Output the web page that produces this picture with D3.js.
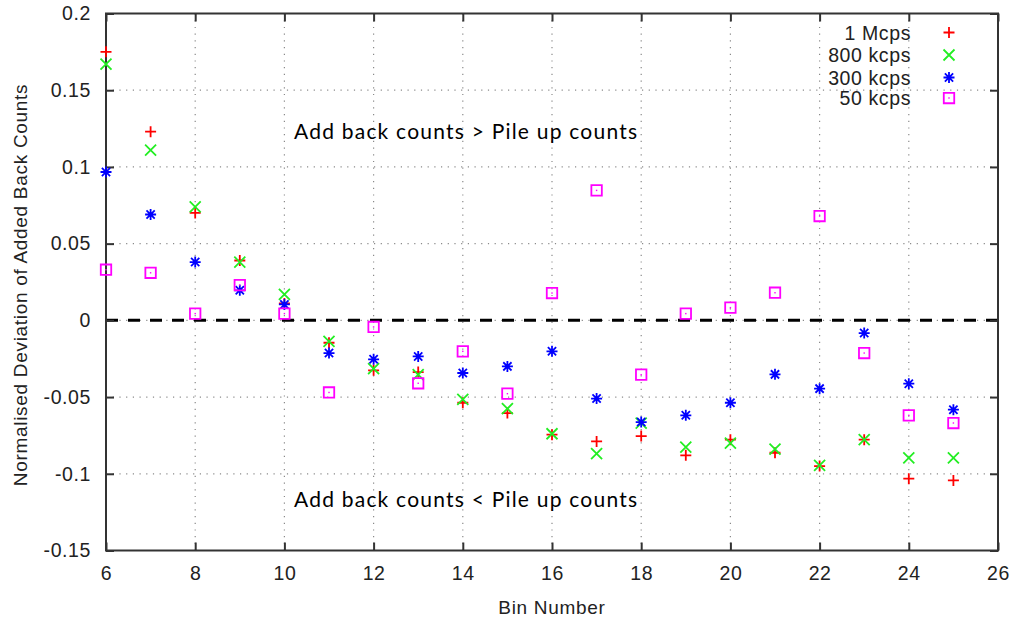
<!DOCTYPE html>
<html>
<head>
<meta charset="utf-8">
<script src="https://cdn.jsdelivr.net/npm/d3@7"></script>
<style>
  html, body { margin: 0; padding: 0; background: #fff; }
  svg { display: block; }
  .tick-label { font-family: "Liberation Sans", Arial, sans-serif; font-size: 19.5px; letter-spacing: 0.6px; fill: #222; }
  .axis-title { font-family: "Liberation Sans", Arial, sans-serif; font-size: 19px; letter-spacing: 0.7px; fill: #222; }
  .note { font-family: Lato, "Open Sans", sans-serif; font-size: 21px; fill: #000; }
</style>
</head>
<body>
<svg id="chart" width="1016" height="622"></svg>
<script>
// Bin numbers along the x axis
const bins = [6, 7, 8, 9, 10, 11, 12, 13, 14, 15, 16, 17, 18, 19, 20, 21, 22, 23, 24, 25];

// Normalised deviation of added-back counts, one array per count rate
const mcps1   = [0.175, 0.123, 0.070, 0.039, 0.011, -0.0146, -0.0326, -0.0337, -0.0537, -0.0604, -0.0745, -0.0789, -0.0754, -0.0880, -0.0778, -0.0863, -0.0950, -0.0778, -0.1032, -0.1043];
const kcps800 = [0.167, 0.111, 0.074, 0.038, 0.017, -0.0137, -0.0315, -0.0354, -0.0515, -0.0576, -0.0739, -0.0869, -0.0670, -0.0826, -0.0800, -0.0840, -0.0945, -0.0778, -0.0896, -0.0896];
const kcps300 = [0.0967, 0.069, 0.038, 0.0196, 0.0104, -0.0213, -0.0254, -0.0235, -0.0343, -0.0300, -0.0202, -0.0510, -0.0663, -0.0619, -0.0537, -0.0352, -0.0445, -0.0083, -0.0413, -0.0582];
const kcps50  = [0.033, 0.031, 0.0044, 0.023, 0.0044, -0.047, -0.0043, -0.041, -0.0202, -0.0478, 0.0178, 0.0847, -0.0354, 0.0044, 0.0083, 0.018, 0.068, -0.0213, -0.0619, -0.0669];

const seriesNames = ["1 Mcps", "800 kcps", "300 kcps", "50 kcps"];
const seriesValues = [mcps1, kcps800, kcps300, kcps50];
const seriesColors = ["#ff0000", "#22ee22", "#0000ff", "#ff00ff"];
const seriesShapes = ["plus", "cross", "star", "square"];

const xTicks = [6, 8, 10, 12, 14, 16, 18, 20, 22, 24, 26];
const yTicks = [-0.15, -0.1, -0.05, 0, 0.05, 0.1, 0.15, 0.2];
const yTickLabels = ["-0.15", "-0.1", "-0.05", "0", "0.05", "0.1", "0.15", "0.2"];

const noteAbove = "Add back counts > Pile up counts";
const noteBelow = "Add back counts < Pile up counts";
const xTitle = "Bin Number";
const yTitle = "Normalised Deviation of Added Back Counts";

const svg = d3.select("#chart");
const plot = { left: 106, right: 998, top: 13.5, bottom: 550.5 };

const x = d3.scaleLinear().domain([6, 26]).range([plot.left, plot.right]);
const y = d3.scaleLinear().domain([-0.15, 0.2]).range([plot.bottom, plot.top]);

// dotted grid
const grid = svg.append("g").attr("stroke", "#8a8a8a").attr("stroke-width", 1.2)
  .attr("stroke-dasharray", "1.2,5.5").attr("fill", "none");
xTicks.slice(1, -1).forEach(t => {
  grid.append("line").attr("x1", x(t)).attr("x2", x(t)).attr("y1", plot.top).attr("y2", plot.bottom);
});
yTicks.slice(1, -1).forEach(t => {
  grid.append("line").attr("x1", plot.left).attr("x2", plot.right).attr("y1", y(t)).attr("y2", y(t));
});

// zero reference line
svg.append("line")
  .attr("x1", plot.left).attr("x2", plot.right)
  .attr("y1", y(0)).attr("y2", y(0))
  .attr("stroke", "#000").attr("stroke-width", 3)
  .attr("stroke-dasharray", "12,10");

// axes with inward ticks on all four sides
const tickLen = 8;
const axisColor = "#333";
const bottomAxis = d3.axisBottom(x).tickValues(xTicks).tickSize(-tickLen).tickPadding(16).tickFormat(d3.format("d"));
const topAxis = d3.axisTop(x).tickValues(xTicks).tickSize(-tickLen).tickFormat("");
const leftAxis = d3.axisLeft(y).tickValues(yTicks).tickSize(-tickLen).tickPadding(15)
  .tickFormat((d, i) => yTickLabels[i]);
const rightAxis = d3.axisRight(y).tickValues(yTicks).tickSize(-tickLen).tickFormat("");

function styleAxis(g) {
  g.select(".domain").remove();
  g.selectAll(".tick line").attr("stroke", axisColor).attr("stroke-width", 2);
  g.selectAll(".tick text").attr("class", "tick-label").attr("font-family", null).attr("font-size", null).attr("fill", null);
}
svg.append("g").attr("transform", `translate(0,${plot.bottom})`).call(bottomAxis).call(styleAxis);
svg.append("g").attr("transform", `translate(0,${plot.top})`).call(topAxis).call(styleAxis);
svg.append("g").attr("transform", `translate(${plot.left},0)`).call(leftAxis).call(styleAxis);
svg.append("g").attr("transform", `translate(${plot.right},0)`).call(rightAxis).call(styleAxis);

// frame
svg.append("rect")
  .attr("x", plot.left).attr("y", plot.top)
  .attr("width", plot.right - plot.left).attr("height", plot.bottom - plot.top)
  .attr("fill", "none").attr("stroke", axisColor).attr("stroke-width", 2);

// point markers
const r = 5.5;
function markerPath(shape) {
  const p = d3.path();
  if (shape === "plus" || shape === "star") {
    p.moveTo(-r, 0); p.lineTo(r, 0);
    p.moveTo(0, -r); p.lineTo(0, r);
  }
  if (shape === "cross" || shape === "star") {
    const k = shape === "star" ? r * 0.75 : r;
    p.moveTo(-k, -k); p.lineTo(k, k);
    p.moveTo(-k, k); p.lineTo(k, -k);
  }
  if (shape === "square") {
    const k = r * 0.95;
    p.rect(-k, -k, 2 * k, 2 * k);
  }
  return p.toString();
}

function drawMarker(g, shape, color, px, py) {
  const m = g.append("g").attr("transform", `translate(${px},${py})`);
  m.append("path").attr("d", markerPath(shape))
    .attr("fill", "none").attr("stroke", color).attr("stroke-width", shape === "star" ? 1.8 : 1.8);
  if (shape === "square") {
    m.append("rect").attr("x", -0.7).attr("y", -0.7).attr("width", 1.4).attr("height", 1.4).attr("fill", color);
  }
}

const points = svg.append("g");
seriesValues.forEach((vals, s) => {
  vals.forEach((v, i) => drawMarker(points, seriesShapes[s], seriesColors[s], x(bins[i]), y(v)));
});

// legend
const legend = svg.append("g");
const legendRows = [32.5, 55, 77.5, 98];
seriesNames.forEach((name, s) => {
  legend.append("text").attr("class", "tick-label")
    .attr("x", 911).attr("y", legendRows[s]).attr("dy", "0.36em")
    .attr("text-anchor", "end").text(name);
  drawMarker(legend, seriesShapes[s], seriesColors[s], 949, legendRows[s]);
});

// region notes
svg.append("text").attr("class", "note").attr("x", 294).attr("y", 132).attr("dy", "0.35em")
  .attr("textLength", 343).attr("lengthAdjust", "spacing").text(noteAbove);
svg.append("text").attr("class", "note").attr("x", 294).attr("y", 500).attr("dy", "0.35em")
  .attr("textLength", 343).attr("lengthAdjust", "spacing").text(noteBelow);

// axis titles
svg.append("text").attr("class", "axis-title")
  .attr("x", (plot.left + plot.right) / 2).attr("y", 607).attr("dy", "0.35em")
  .attr("text-anchor", "middle").text(xTitle);
svg.append("text").attr("class", "axis-title")
  .attr("transform", `translate(20,${(plot.top + plot.bottom) / 2 + 3}) rotate(-90)`)
  .attr("dy", "0.35em").attr("text-anchor", "middle").text(yTitle);
</script>
</body>
</html>
